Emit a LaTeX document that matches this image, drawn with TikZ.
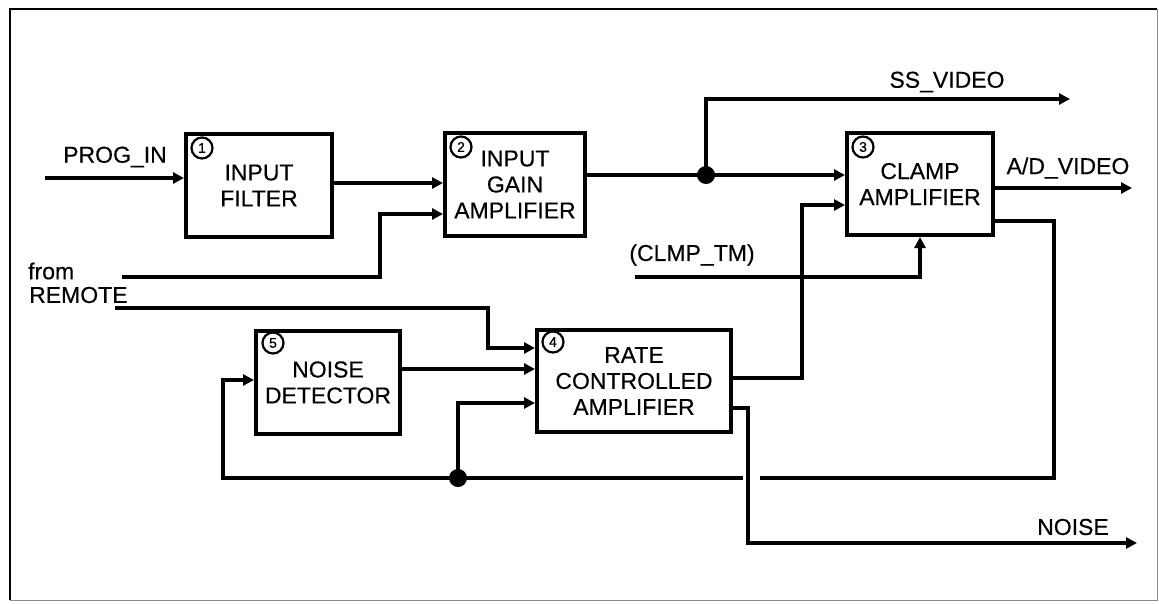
\documentclass[tikz,border=0pt]{standalone}
\usepackage{fontspec}
\setmainfont{Liberation Sans}[FakeBold=0.4]
\usetikzlibrary{arrows.meta,calc}
\begin{document}
\begin{tikzpicture}[x=1pt,y=-1pt,
  blk/.style={draw, line width=4pt, align=center, inner sep=0pt, font=\fontsize{23}{26}\selectfont},
  wire/.style={line width=3.5pt},
  arr/.style={wire, -{Triangle[length=11pt,width=11pt]}},
  num/.style={circle, draw, line width=2.2pt, inner sep=0pt, minimum size=21pt, font=\fontsize{14}{14}\selectfont},
  lbl/.style={font=\fontsize{23}{26}\selectfont, inner sep=0pt},
  dot/.style={circle, fill, inner sep=0pt, minimum size=18pt}]

\useasboundingbox (0,0) rectangle (1159,603);
\draw[line width=2pt] (10,600) -- (10,9) -- (1157,9);
\draw[line width=1pt, black!45] (1157,9) -- (1157,600) -- (10,600);

% blocks
\node[blk, minimum width=146pt, minimum height=103pt] (b1) at (259,185.5) {INPUT\\FILTER};
\node[blk, minimum width=140pt, minimum height=103pt] (b2) at (515,184.5) {INPUT\\GAIN\\AMPLIFIER};
\node[blk, minimum width=146pt, minimum height=102pt] (b3) at (920,184) {CLAMP\\AMPLIFIER};
\node[blk, minimum width=194pt, minimum height=102pt] (b4) at (634,381) {RATE\\CONTROLLED\\AMPLIFIER};
\node[blk, minimum width=144pt, minimum height=103pt] (b5) at (328,382.5) {NOISE\\DETECTOR};

\node[num] (n1) at ($(b1.north west)+(18,16)$) {1};
\node[num] (n2) at ($(b2.north west)+(18,16)$) {2};
\node[num] (n3) at ($(b3.north west)+(18,16)$) {3};
\node[num] (n4) at ($(b4.north west)+(18,14)$) {4};
\node[num] (n5) at ($(b5.north west)+(19,14)$) {5};

% labels
\node[lbl] (lprog) at (115,157) {PROG\_IN};
\node[lbl] (lss) at (947,82) {SS\_VIDEO};
\node[lbl] (lad) at (1068,168) {A/D\_VIDEO};
\node[lbl] (lclmp) at (692,255) {(CLMP\_TM)};
\node[lbl] (lnoise) at (1073,527) {NOISE};
\node[lbl, anchor=west] (lfrom) at (28,271) {from};
\node[lbl, anchor=west] (lremote) at (29,295) {REMOTE};

% free ends
\coordinate (progin) at (45,178);
\coordinate (remA) at (122,277);
\coordinate (remB) at (115,308);
\coordinate (clmp) at (635,277);
\coordinate (ssv) at (1070,99);
\coordinate (adv) at (1132,188);
\coordinate (noise) at (1137,543);

% junctions
\node[dot] (j1) at (706,175) {};
\node[dot] (j2) at (458,478) {};

% wires
\draw[arr] (progin) -- (b1.west |- progin);
\draw[arr] (b1.east |- 0,183) -- (b2.west |- 0,183);
\draw[arr] (remA) -| (380,214) -- (b2.west |- 0,214);
\draw[wire] (b2.east |- j1) -- (j1.center);
\draw[arr] (j1.center) -- (b3.west |- j1);
\draw[arr] (j1.center) |- (ssv);
\draw[arr] (b3.east |- adv) -- (adv);
\draw[arr] (clmp) -| (b3.south);
\draw[arr] (b4.east |- 0,378) -| (802,205) -- (b3.west |- 0,205);
\draw[wire] (b3.east |- 0,221) -| (1054,478) -- (760,478);
\draw[arr] (743,478) -- (j2.center) -| (223,380) -- (b5.west |- 0,380);
\draw[arr] (j2.center) |- (b4.west |- 0,403);
\draw[arr] (b4.east |- 0,408) -| (748,543) -- (noise);
\draw[arr] (remB) -| (488,348) -- (b4.west |- 0,348);
\draw[arr] (b5.east |- 0,369) -- (b4.west |- 0,369);
\end{tikzpicture}
\end{document}
